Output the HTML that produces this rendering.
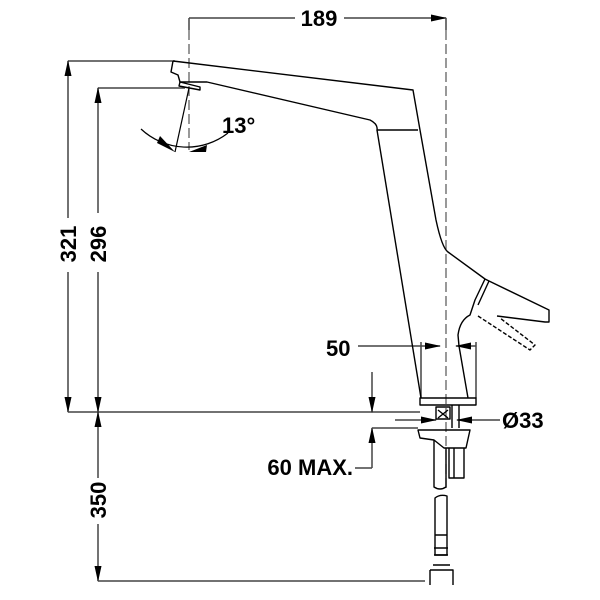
<!DOCTYPE html>
<html><head><style>html,body{margin:0;padding:0;background:#fff}svg{display:block}text{font-family:"Liberation Sans",sans-serif;font-weight:bold;fill:#000}</style></head>
<body>
<svg width="600" height="600" viewBox="0 0 600 600" xmlns="http://www.w3.org/2000/svg">
<defs>
<marker id="a" markerWidth="16" markerHeight="7" refX="15" refY="3.5" orient="auto" markerUnits="userSpaceOnUse"><path d="M0,0 L16,3.5 L0,7z" fill="#000"/></marker>
</defs>
<g stroke="#444" stroke-width="1.5" fill="none">
<!-- 189 -->
<line x1="189" y1="18" x2="295" y2="18"/><line x1="344" y1="18" x2="446" y2="18" marker-end="url(#a)"/>
<line x1="189" y1="18" x2="189" y2="30"/>
<line x1="446" y1="18" x2="446" y2="30"/>
<!-- 321 -->
<line x1="68" y1="61" x2="175" y2="61"/>
<line x1="68" y1="218" x2="68" y2="61" marker-end="url(#a)"/>
<line x1="68" y1="272" x2="68" y2="412" marker-end="url(#a)"/>
<!-- 296 -->
<line x1="98" y1="88" x2="185" y2="88"/>
<line x1="98" y1="213" x2="98" y2="88" marker-end="url(#a)"/>
<line x1="98" y1="272" x2="98" y2="412" marker-end="url(#a)"/>
<line x1="68" y1="412" x2="420" y2="412"/>
<!-- 350 -->
<line x1="98" y1="478" x2="98" y2="412" marker-end="url(#a)"/>
<line x1="98" y1="524" x2="98" y2="581" marker-end="url(#a)"/>
<line x1="98" y1="581" x2="425" y2="581"/>
<!-- 50 -->
<line x1="358" y1="346" x2="440" y2="346" marker-end="url(#a)"/>
<line x1="476" y1="346" x2="456" y2="346" marker-end="url(#a)"/>
<line x1="421" y1="342" x2="421" y2="398"/><line x1="476" y1="342" x2="476" y2="398"/>
<!-- 60 max -->
<line x1="372" y1="372" x2="372" y2="412" marker-end="url(#a)"/>
<line x1="372" y1="468" x2="372" y2="428" marker-end="url(#a)"/>
<line x1="372" y1="428" x2="418" y2="428"/>
<line x1="355" y1="468" x2="372" y2="468"/>
<!-- 33 -->
<line x1="395" y1="420" x2="436" y2="420" marker-end="url(#a)"/>
<line x1="500" y1="420" x2="457" y2="420" marker-end="url(#a)"/>
</g>
<g stroke="#555" stroke-width="1.2" fill="none" stroke-dasharray="10,4">
<line x1="446" y1="30" x2="446" y2="488"/>
<line x1="189" y1="30" x2="189" y2="150"/>
</g>
<g stroke="#000" stroke-width="1.2" fill="none">
<path d="M141,129 A67,67 0 0 0 228,133"/>
<line x1="189" y1="88" x2="175" y2="152"/>
</g>
<g fill="#000"><path d="M175,152 l-18,-9 l3,-7z"/><path d="M189,152 l18,-7 l-1,7z"/></g>
<g stroke="#000" stroke-width="1.4" fill="none" stroke-linejoin="round">
<path d="M173,61 L413,90 L420,130 L436,220 Q442,248 448,252 L485,279 L489,281 L549,310 L549,322 L545,322 L497,316"/>
<path d="M173,61 L171,72 L178,75 L180,82 L207,82 L370,120 Q378,124 377,130 L418,130"/>
<path d="M180,82 L200,87 L200,90 L179,86z"/>
<path d="M377,130 L421,398"/>
<path d="M485,279 L475,300 L470,315 Q460,320 458,335 L459,346 L468,398"/>
<path d="M489,281 L478,305"/>
<path d="M478,316 L530,350 L535,345 L500,318" stroke-dasharray="4,2"/>
<rect x="420" y="398" width="56" height="7"/>
<rect x="436" y="407" width="14" height="12"/>
<path d="M438,410 l10,8 M448,410 l-10,8"/>
<line x1="452" y1="405" x2="452" y2="428"/><line x1="459" y1="405" x2="459" y2="428"/>
<path d="M418,430 L470,430 L466,448 L444,448 L434,440 L420,438z"/>
<path d="M434,440 L434,487 Q440,491 446,487 L446,448"/>
<path d="M449,448 L449,478 L464,478 L464,448 M454,448 L454,478"/>
<path d="M435,498 Q440,494 447,496 L447,555 L435,555z"/>
<path d="M435,535 L447,535 M434,548 L448,548 M434,555 L448,555 M433,565 L450,565 M430,570 L453,570 L453,585 M430,570 L430,585"/>
</g>
<text x="319" y="26" font-size="22" text-anchor="middle">189</text>
<text x="222" y="133" font-size="22">13°</text>
<text x="326" y="356" font-size="22">50</text>
<text x="502" y="428" font-size="22">Ø33</text>
<text x="353" y="475" font-size="22" text-anchor="end">60 MAX.</text>
<text transform="translate(76,244) rotate(-90)" font-size="22" text-anchor="middle">321</text>
<text transform="translate(106,244) rotate(-90)" font-size="22" text-anchor="middle">296</text>
<text transform="translate(106,500) rotate(-90)" font-size="22" text-anchor="middle">350</text>
</svg>
</body></html>
